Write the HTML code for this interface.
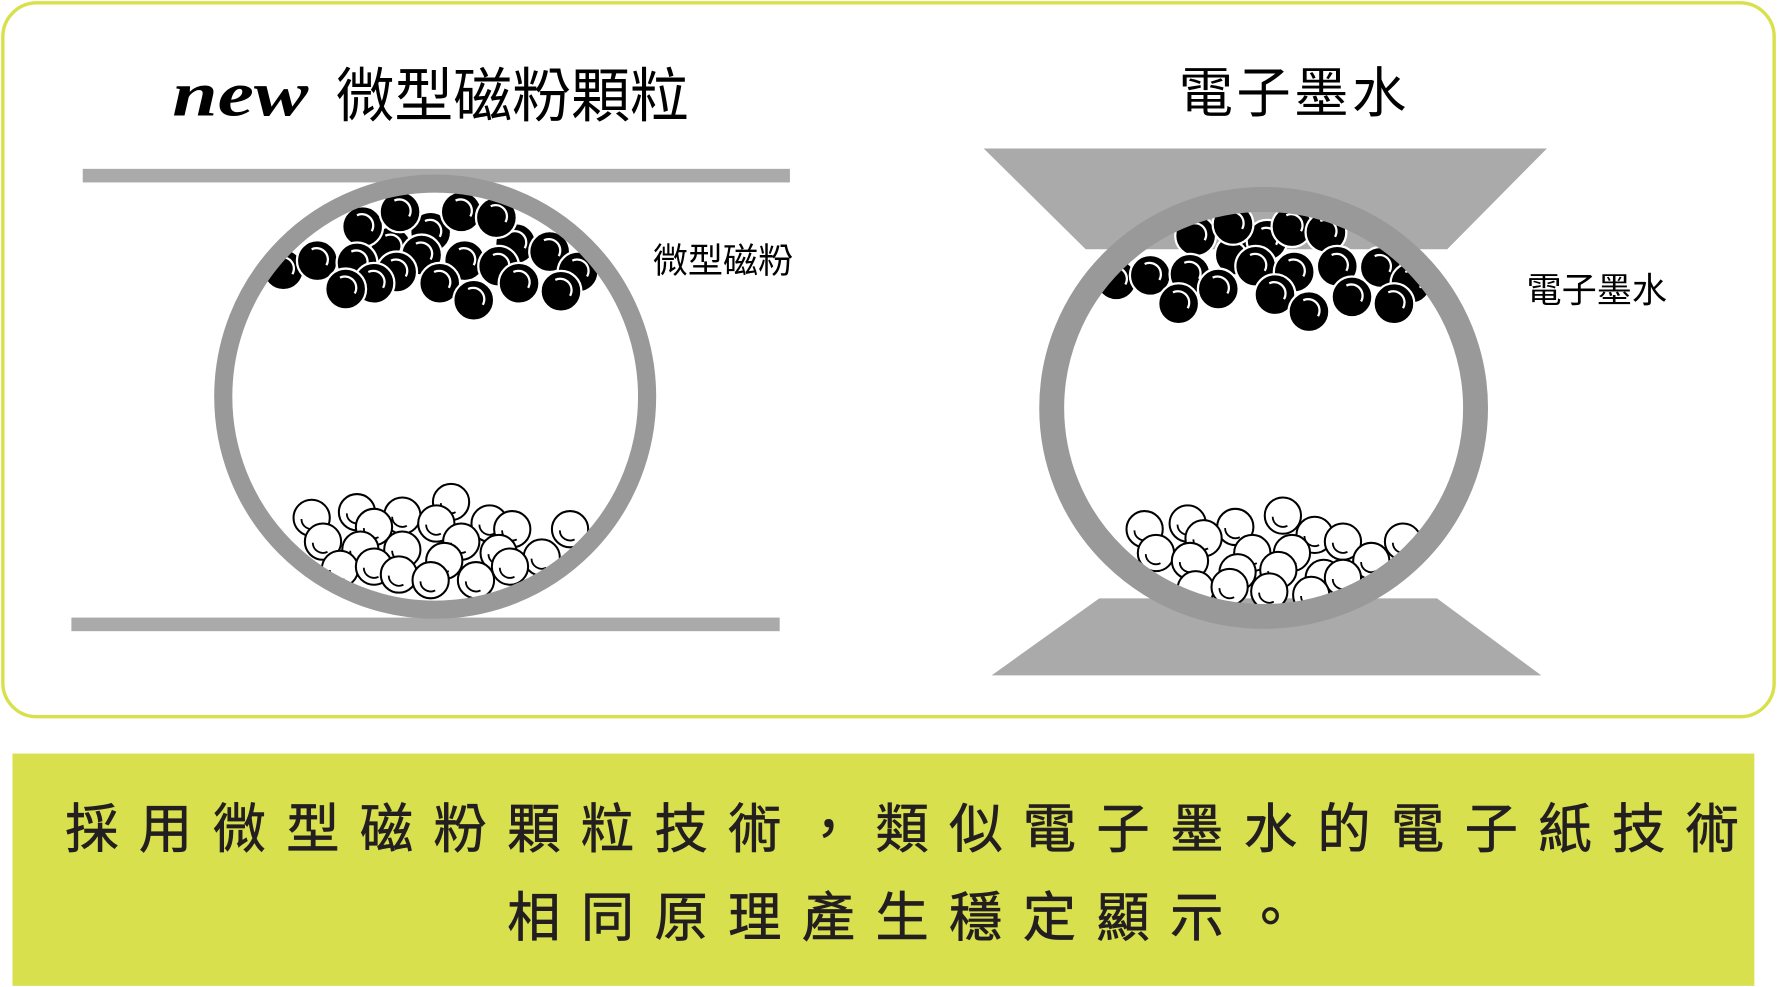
<!DOCTYPE html>
<html><head><meta charset="utf-8"><style>
html,body{margin:0;padding:0;background:#fff;width:1777px;height:987px;overflow:hidden}
svg{display:block}
</style></head><body>
<svg id="s" width="1777" height="987" viewBox="0 0 1568 871" preserveAspectRatio="none" xmlns="http://www.w3.org/2000/svg">
<rect x="2.5" y="2.5" width="1563" height="630" rx="30" fill="#fff" stroke="#d9e04c" stroke-width="3"/>
<rect x="11" y="665" width="1537" height="205" fill="#d9e04e"/>
<g font-family="'Liberation Sans','Noto Sans CJK TC',sans-serif" fill="#231f20" stroke="#231f20" stroke-width="0.6">
<text x="805" y="748" font-size="47" text-anchor="middle" letter-spacing="18">採用微型磁粉顆粒技術，類似電子墨水的電子紙技術</text>
<text x="805" y="826" font-size="47" text-anchor="middle" letter-spacing="18">相同原理產生穩定顯示。</text>
</g>
<text x="152" y="102" font-family="'Liberation Serif',serif" font-style="italic" font-weight="bold" font-size="56" fill="#000" textLength="120" lengthAdjust="spacingAndGlyphs">new</text>
<text x="296" y="103" font-family="'Liberation Sans','Noto Sans CJK TC',sans-serif" font-size="52" fill="#000">微型磁粉顆粒</text>
<text x="1040" y="99" font-family="'Liberation Sans','Noto Sans CJK TC',sans-serif" font-size="48" letter-spacing="3" fill="#000">電子墨水</text>
<text x="576" y="241" font-family="'Liberation Sans','Noto Sans CJK TC',sans-serif" font-size="31" fill="#000">微型磁粉</text>
<text x="1347" y="267" font-family="'Liberation Sans','Noto Sans CJK TC',sans-serif" font-size="31" fill="#000">電子墨水</text>
<rect x="73" y="149" width="624" height="12" fill="#aaa"/>
<rect x="63" y="545" width="625" height="12" fill="#aaa"/>
<polygon points="868,131 1365,131 1277,220 958,220" fill="#aaa"/>
<polygon points="970,528 1268,528 1360,596 875,596" fill="#aaa"/>
<g id="balls"></g>
<ellipse cx="384" cy="350" rx="187" ry="188" fill="none" stroke="#999" stroke-width="16"/>
<ellipse cx="1115" cy="360" rx="187" ry="184" fill="none" stroke="#999" stroke-width="22"/>
</svg>
<script>
var g=document.getElementById('balls'),h='';
function B(c){c.forEach(function(p){var x=p[0],y=p[1];h+='<circle cx="'+x+'" cy="'+y+'" r="18" fill="#000" stroke="#fff" stroke-width="2"/><path d="M'+(x-5)+' '+(y-10)+' A10 10 0 0 1 '+(x+8)+' '+(y+4)+'" fill="none" stroke="#fff" stroke-width="2"/>';});}
function W(c){c.forEach(function(p){var x=p[0],y=p[1];h+='<circle cx="'+x+'" cy="'+y+'" r="16" fill="#fff" stroke="#000" stroke-width="1.8"/><path d="M'+(x-9)+' '+(y+1)+' A9 9 0 0 0 '+(x+4)+' '+(y+9)+'" fill="none" stroke="#000" stroke-width="1.6"/>';});}
B([[250,238],[280,230],[345,218],[380,205],[455,215],[485,222],[510,240],[320,200],[353,187],[407,187],[438,192],[315,232],[372,225],[410,230],[440,235],[350,240],[330,250],[305,255],[388,250],[458,250],[495,257],[418,265]]);
W([[275,457],[315,452],[355,455],[398,443],[432,462],[452,467],[503,467],[330,465],[385,462],[285,478],[407,478],[440,488],[478,492],[318,485],[355,485],[392,495],[300,502],[330,500],[450,500],[352,507],[380,512],[420,512]]);
B([[985,247],[1015,243],[1090,225],[1118,212],[1055,208],[1088,198],[1140,200],[1170,205],[1050,242],[1108,235],[1142,240],[1180,235],[1218,236],[1245,250],[1075,255],[1125,260],[1193,262],[1040,268],[1230,268],[1155,275]]);
W([[1010,467],[1048,462],[1090,465],[1132,455],[1160,472],[1185,478],[1238,478],[1062,475],[1020,488],[1105,488],[1140,488],[1050,495],[1210,495],[1092,505],[1128,503],[1168,510],[1185,510],[1055,520],[1085,518],[1120,522],[1157,525]]);
g.innerHTML=h;
</script>
</body></html>
